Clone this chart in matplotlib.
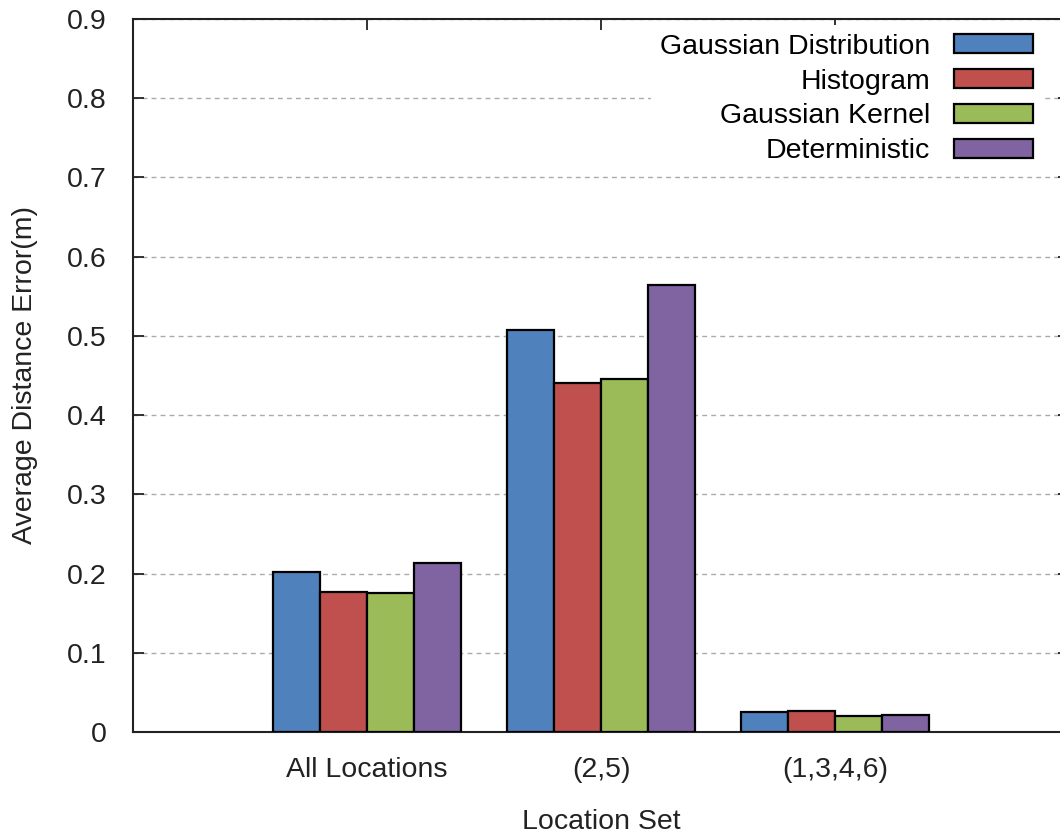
import matplotlib
matplotlib.use("Agg")
import matplotlib.pyplot as plt
import numpy as np

categories = ["All Locations", "(2,5)", "(1,3,4,6)"]
series_names = ["Gaussian Distribution", "Histogram", "Gaussian Kernel", "Deterministic"]
gaussian_distribution = [0.202, 0.507, 0.025]
histogram = [0.177, 0.441, 0.026]
gaussian_kernel = [0.175, 0.446, 0.020]
deterministic = [0.213, 0.564, 0.022]
yticks = [0, 0.1, 0.2, 0.3, 0.4, 0.5, 0.6, 0.7, 0.8, 0.9]
ytick_labels = ["0", "0.1", "0.2", "0.3", "0.4", "0.5", "0.6", "0.7", "0.8", "0.9"]

colors = ["#4F81BD", "#C0504D", "#9BBB59", "#8064A2"]

plt.rcParams["font.family"] = ["Liberation Sans", "DejaVu Sans"]
FS = 20.5

fig = plt.figure(figsize=(10.6, 8.35), dpi=100)
W, H = 1060, 835
left, right, top, bottom = 133, 1069, 19, 732
ax = fig.add_axes([left / W, (H - bottom) / H, (right - left) / W, (bottom - top) / H])

x = np.arange(len(categories))
width = 0.2
data = [gaussian_distribution, histogram, gaussian_kernel, deterministic]
for i, (vals, name, c) in enumerate(zip(data, series_names, colors)):
    ax.bar(x + (i - 1.5) * width, vals, width, color=c, edgecolor="black",
           linewidth=1.6, label=name, zorder=3)

ax.set_xlim(-1, 3)
ax.set_ylim(0, 0.9)
ax.set_yticks(yticks)
ax.set_yticklabels(ytick_labels)
ax.set_xticks(x)
ax.set_xticklabels(categories)

ax.yaxis.grid(True, linestyle=(0, (3.5, 3)), color="#aaaaaa", linewidth=1.0, zorder=0)
ax.set_axisbelow(True)

for s in ax.spines.values():
    s.set_linewidth(1.5)
    s.set_color("#222222")

ax.tick_params(axis="y", direction="in", length=8, width=1.3, pad=19, labelsize=FS,
               colors="#222222", right=True)
ax.tick_params(axis="x", direction="in", length=8, width=1.3, pad=18, labelsize=FS,
               colors="#222222", top=True)

ax.set_ylabel("Average Distance Error(m)", fontsize=FS, color="#222222", labelpad=21)
ax.set_xlabel("Location Set", fontsize=FS, color="#222222", labelpad=19)

leg = ax.legend(loc="upper right", bbox_to_anchor=(1056 / W, (H - 11) / H),
                bbox_transform=fig.transFigure, markerfirst=False, frameon=True,
                fontsize=FS, handlelength=2.77, handleheight=0.63, handletextpad=0.85,
                labelspacing=0.31, borderpad=0.3, fancybox=False)
leg.get_frame().set_edgecolor("none")
leg.get_frame().set_facecolor("white")
leg.get_frame().set_alpha(1.0)
leg.set_zorder(5)

fig.savefig("out.png", dpi=100)
